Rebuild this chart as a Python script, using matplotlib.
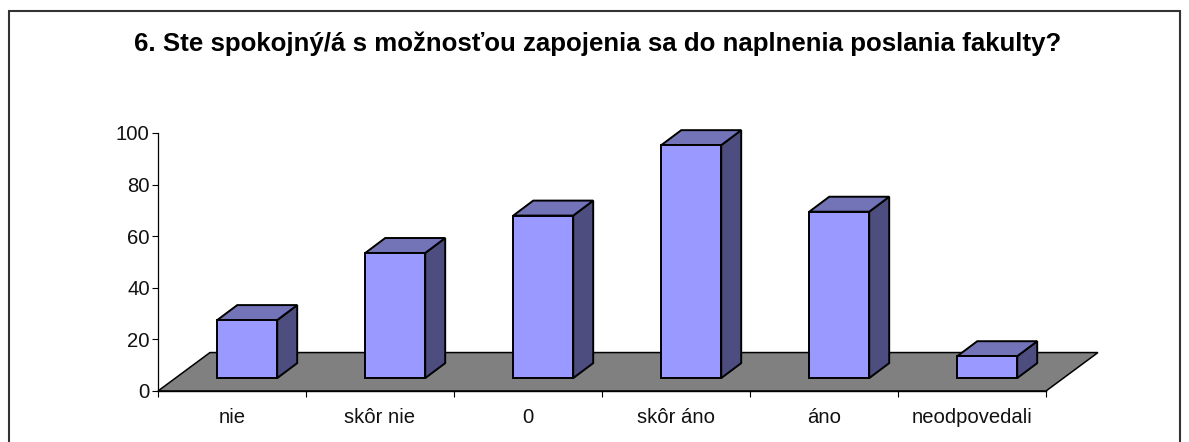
import numpy as np
import matplotlib
matplotlib.use('Agg')
import matplotlib.pyplot as plt
from matplotlib.patches import Polygon, Rectangle

plt.rcParams['font.family'] = ['Liberation Sans', 'DejaVu Sans']

# Datos
kategorie = ['nie', 'skôr nie', '0', 'skôr áno', 'áno', 'neodpovedali']
hodnoty = [22.5, 48.5, 63, 90.3, 64.5, 8.5]
y_ticks = [0, 20, 40, 60, 80, 100]
titulok = '6. Ste spokojný/á s možnosťou zapojenia sa do naplnenia poslania fakulty?'

W, H = 1189, 442
fig = plt.figure(figsize=(W / 100, H / 100), dpi=100)
ax = fig.add_axes([158 / W, 1 - 391 / H, (1046 - 158) / W, (391 - 133) / H])
ax.set_xlim(0, len(kategorie))
ax.set_ylim(0, 100)

# Marco exterior (sale por abajo como en la imagen)
fig.add_artist(Rectangle((8.5 / W, -0.05), (1171) / W, 1.05 - 11.5 / H, transform=fig.transFigure,
                         fill=False, ec='#333333', lw=1.5))

# Suelo en perspectiva
piso_dx, piso_dy = 0.351, 14.9
n = len(kategorie)
ax.add_patch(Polygon([(0, 0), (n, 0), (n + piso_dx, piso_dy), (piso_dx, piso_dy)],
                     closed=True, fc='#808080', ec='black', lw=1.1, clip_on=False, zorder=1))

# Barras 3D
ancho = 0.405
base = 5.0
prof_dx, prof_dy = 0.135, 5.8
for i, v in enumerate(hodnoty):
    x0 = i + 0.5 + 0.103 - ancho / 2
    x1 = x0 + ancho
    y1 = base + v
    ax.add_patch(Polygon([(x1, base), (x1 + prof_dx, base + prof_dy), (x1 + prof_dx, y1 + prof_dy), (x1, y1)],
                         closed=True, fc='#4d4d80', ec='black', lw=1.4, clip_on=False, zorder=3))
    ax.add_patch(Polygon([(x0, y1), (x1, y1), (x1 + prof_dx, y1 + prof_dy), (x0 + prof_dx, y1 + prof_dy)],
                         closed=True, fc='#7373b8', ec='black', lw=1.4, clip_on=False, zorder=3))
    ax.add_patch(Rectangle((x0, base), ancho, v, fc='#9999ff', ec='black', lw=1.4, clip_on=False, zorder=4))

# Ejes
for lado in ['top', 'right']:
    ax.spines[lado].set_visible(False)
ax.spines['left'].set_linewidth(0.9)
ax.spines['bottom'].set_linewidth(1.0)
ax.patch.set_visible(False)
ax.set_yticks(y_ticks)
ax.set_xticks(np.arange(n + 1))
ax.set_xticklabels([])
ax.set_xticks(np.arange(n) + 0.5, minor=True)
ax.set_xticklabels(kategorie, minor=True)
ax.tick_params(axis='x', which='major', length=4, width=0.8)
ax.tick_params(axis='x', which='minor', length=0, pad=12, labelsize=14.6, labelcolor='#111111')
ax.tick_params(axis='y', length=4, width=0.8, pad=2, labelsize=14.6, labelcolor='#111111')

fig.text(597.5 / W, 1 - 44 / H, titulok, ha='center', va='center', fontsize=18.6, fontweight='bold')

fig.savefig('out.png', dpi=100)
